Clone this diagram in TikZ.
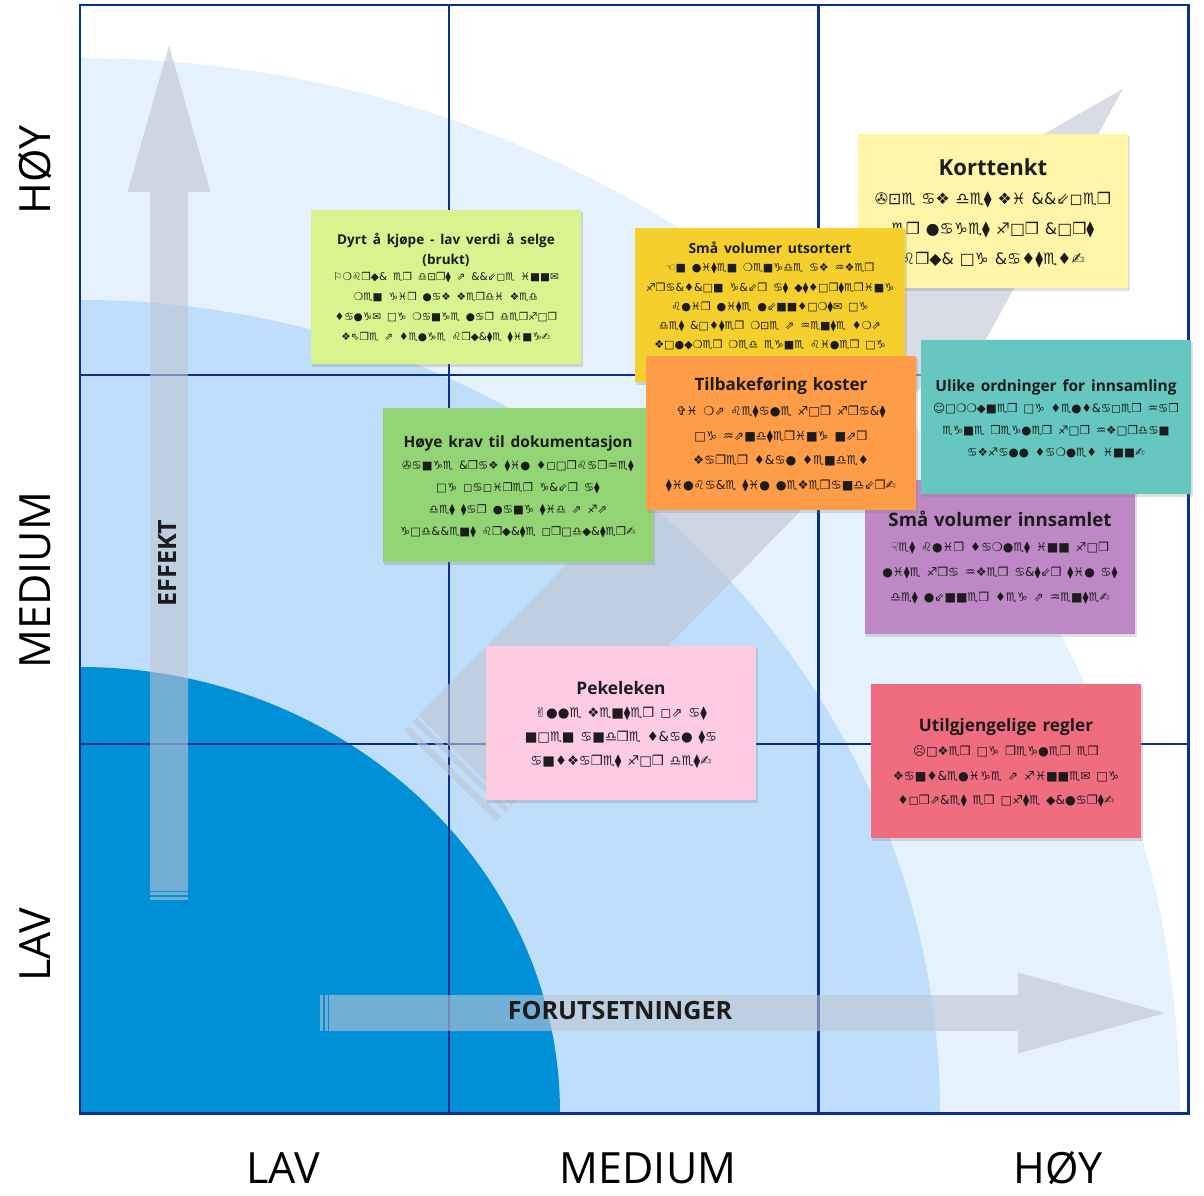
\documentclass[tikz,border=0pt]{standalone}
\usepackage{fontspec}
\setmainfont{Open Sans}
\newfontfamily\wdfont{DejaVu Sans}
\usetikzlibrary{shadows}

\definecolor{framenavy}{HTML}{0B2F8F}
\definecolor{zonelight}{HTML}{E5F1FD}
\definecolor{zonemid}{HTML}{BEDEFB}
\definecolor{zonedark}{HTML}{0090D8}
\definecolor{arrowgrey}{RGB}{193,197,210}
\definecolor{notelime}{HTML}{D8F48F}
\definecolor{noteyellow}{HTML}{F5D02D}
\definecolor{notecream}{HTML}{FFF5A9}
\definecolor{noteorange}{HTML}{FF9C47}
\definecolor{noteteal}{HTML}{66C7C0}
\definecolor{notegreen}{HTML}{93D575}
\definecolor{notepurple}{HTML}{BE88C7}
\definecolor{notepink}{HTML}{FECCE1}
\definecolor{notered}{HTML}{F06C7F}
\definecolor{inkdark}{HTML}{1C1C1C}

% symbol font for the note bodies
\ExplSyntaxOn
\cs_new:Npn \wing_glyph:n #1
  {
    \str_case:nnF {#1}
      {
        {a}{♋} {b}{♌} {c}{♍} {d}{♎} {e}{♏} {f}{♐} {g}{♑} {h}{♒}
        {i}{♓} {j}{\&} {k}{\&} {l}{●} {m}{❍} {n}{■} {o}{□} {p}{◻}
        {q}{❑} {r}{❒} {s}{♦} {t}{⧫} {u}{◆} {v}{❖} {w}{⬥} {x}{⌧}
        {y}{⊡} {z}{⌘} {å}{⇗} {ø}{⇙} {æ}{⇖}
        {A}{✌} {D}{☟} {E}{☜} {L}{☹} {M}{✇} {O}{⚐} {U}{✞} {V}{✞}
        {K}{☺}
        {,}{✉} {.}{✍} {-}{☏}
      }
      {#1}
  }
\NewDocumentCommand \wing { m } { { \wdfont \str_map_function:nN {#1} \wing_glyph:n } }
\ExplSyntaxOff

\newcommand\bigarrow[5]{%
  \fill[big arrow] (0,-#2/2) rectangle (#5,#2/2);
  \fill[big arrow] (#5*1.8,-#2/2) rectangle (#5*2.6,#2/2);
  \fill[big arrow] (#5*3,-#2/2) -- (#1-#4,-#2/2) -- (#1-#4,-#3/2) -- (#1,0)
    -- (#1-#4,#3/2) -- (#1-#4,#2/2) -- (#5*3,#2/2) -- cycle;
}

\newcommand\sticky[9]{%
  \node[note=#3, text width=#7] (#1) at #2
    {{\fontsize{#4}{#5}\selectfont\bfseries
      \makebox[\linewidth]{\begin{tabular}{@{}c@{}}#8\end{tabular}}}\\
     {\mdseries\fontsize{#6}{#5}\selectfont\wing{#9}\par}};
}

\tikzset{
  grid line/.style={framenavy, line width=1.7pt},
  big arrow/.style={fill=arrowgrey, fill opacity=0.6},
  axis label/.style={font=\fontsize{24.5}{29}\selectfont, text=black, inner sep=0pt},
  arrow label/.style={font=\bfseries\fontsize{14.3}{17}\selectfont, text=inkdark, inner sep=0pt},
  note/.style={fill=#1, text=inkdark, minimum width=5.42cm, minimum height=3.1cm,
    inner sep=0pt, align=center,
    drop shadow={shadow xshift=0.6pt, shadow yshift=-1.2pt, opacity=0.25}},
}

\begin{document}
\begin{tikzpicture}[x=0.02cm, y=-0.02cm]
  \useasboundingbox (0,0) rectangle (1204,1196);

  % zones
  \begin{scope}
    \clip (80,5) rectangle (1188,1113);
    \fill[white] (80,5) rectangle (1188,1113);
    \fill[zonelight] (80,1113) ellipse [x radius=1100, y radius=1055];
    \fill[zonemid] (80,1113) ellipse [x radius=860, y radius=813];
    \fill[zonedark] (80,1113) ellipse [x radius=480, y radius=446];
  \end{scope}

  % grid
  \draw[grid line] (80,5) rectangle (1188,1113);
  \draw[grid line] (449,5) -- (449,1113);
  \draw[grid line] (818,5) -- (818,1113);
  \draw[grid line] (80,375) -- (1188,375);
  \draw[grid line] (80,744) -- (1188,744);

  % arrows
  \begin{scope}[shift={(450,776)}, rotate=45.6]
    \bigarrow{962}{130}{186}{330}{7}
  \end{scope}
  \begin{scope}[shift={(169,900)}, rotate=90]
    \bigarrow{855}{38}{83}{147}{3}
  \end{scope}
  \begin{scope}[shift={(320,1013)}]
    \bigarrow{845}{36}{81}{147}{3}
  \end{scope}

  \node[arrow label, rotate=90] (effekt) at (168,563) {EFFEKT};
  \node[arrow label] (forut) at (620,1011) {FORUTSETNINGER};

  % axis labels
  \node[axis label, rotate=90] (yhigh) at (35,170) {HØY};
  \node[axis label, rotate=90] (ymid) at (35,580) {MEDIUM};
  \node[axis label, rotate=90] (ylow) at (35,945) {LAV};
  \node[axis label] (xlow) at (283,1168) {LAV};
  \node[axis label] (xmid) at (648,1168) {MEDIUM};
  \node[axis label] (xhigh) at (1058,1168) {HØY};

  % notes
  \sticky{dyrt}{(446,287)}{notelime}{7.7}{11.3}{6}{4.7cm}
    {Dyrt å kjøpe - lav verdi å selge\\(brukt)}
    {Ombruk er dyrt å kjøpe inn, men gir lav verdi ved salg, og mange lar derfor være å selge brukte ting.}
  \sticky{kort}{(993,211)}{notecream}{12.6}{17}{9}{4.8cm}
    {Korttenkt}
    {Mye av det vi kjøper er laget for kort bruk og kastes.}
  \sticky{smaut}{(770,305)}{noteyellow}{7.9}{10.9}{6.3}{5cm}
    {Små volumer utsortert}
    {En liten mengde av hver fraksjon gjør at utsortering blir lite lønnsomt, og det koster mye å hente små volumer med egne biler og containere ut til anlegget.}
  \sticky{hoye}{(518,485)}{notegreen}{8.8}{12.5}{6.5}{4.8cm}
    {Høye krav til dokumentasjon}
    {Mange krav til sporbarhet og papirer gjør at det tar lang tid å få godkjent brukte produkter.}
  \sticky{innsamlet}{(1000,557)}{notepurple}{10.6}{14.2}{6.9}{4.8cm}
    {Små volumer innsamlet}
    {Det blir samlet inn for lite fra hver aktør til at det lønner seg å hente.}
  \sticky{ulike}{(1056,417)}{noteteal}{8.8}{12.5}{6.6}{4.96cm}
    {Ulike ordninger for innsamling}
    {Kommuner og selskaper har egne regler for hvordan avfall samles inn.}
  \sticky{tilbake}{(781,433)}{noteorange}{9.7}{14.2}{7}{4.9cm}
    {Tilbakeføring koster}
    {Vi må betale for frakt og håndtering når varer skal sendes tilbake til leverandør.}
  \sticky{peke}{(621,723)}{notepink}{9.85}{13.6}{7.6}{5cm}
    {Pekeleken}
    {Alle venter på at noen andre skal ta ansvaret for det.}
  \sticky{regler}{(1006,761)}{notered}{9.8}{13.9}{7}{4.8cm}
    {Utilgjengelige regler}
    {Lover og regler er vanskelige å finne, og språket er ofte uklart.}
\end{tikzpicture}
\end{document}
